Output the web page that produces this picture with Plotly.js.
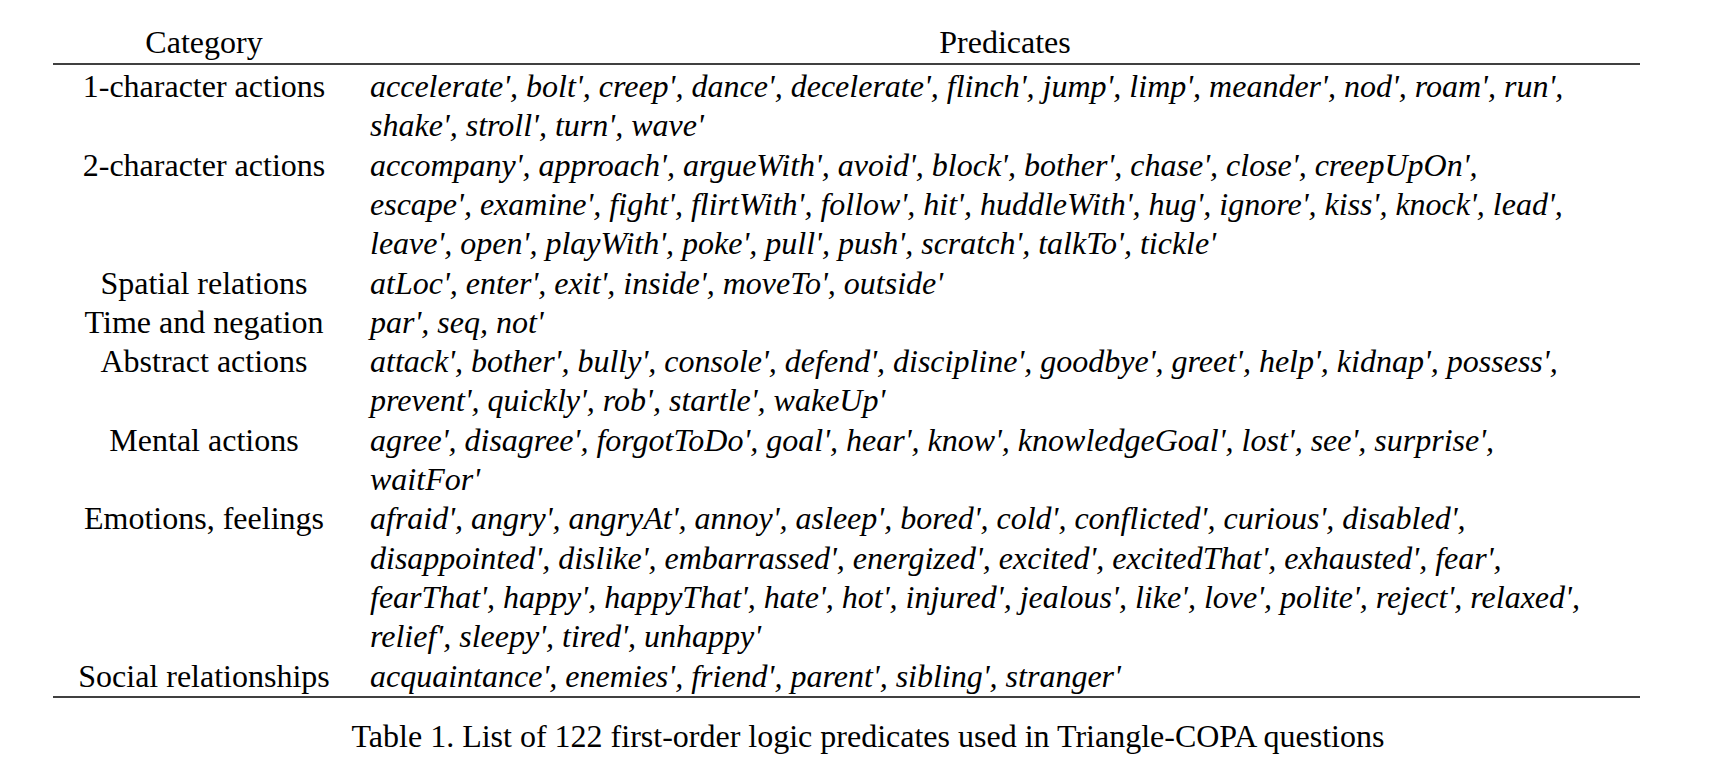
<!DOCTYPE html>
<html>
<head>
<meta charset="utf-8">
<script src="https://cdn.plot.ly/plotly-3.0.1.min.js"></script>
<style>html,body{margin:0;padding:0;background:#fff}</style>
</head>
<body>
<div id="chart" style="width:1722px;height:772px"></div>
<script>
const headers = ['Category', 'Predicates'];
const categories = ['1-character actions', '2-character actions', 'Spatial relations', 'Time and negation',
  'Abstract actions', 'Mental actions', 'Emotions, feelings', 'Social relationships'];
// wrapped text lines of each category's predicates, as printed
const predicateLines = [
  ["accelerate', bolt', creep', dance', decelerate', flinch', jump', limp', meander', nod', roam', run',",
   "shake', stroll', turn', wave'"],
  ["accompany', approach', argueWith', avoid', block', bother', chase', close', creepUpOn',",
   "escape', examine', fight', flirtWith', follow', hit', huddleWith', hug', ignore', kiss', knock', lead',",
   "leave', open', playWith', poke', pull', push', scratch', talkTo', tickle'"],
  ["atLoc', enter', exit', inside', moveTo', outside'"],
  ["par', seq, not'"],
  ["attack', bother', bully', console', defend', discipline', goodbye', greet', help', kidnap', possess',",
   "prevent', quickly', rob', startle', wakeUp'"],
  ["agree', disagree', forgotToDo', goal', hear', know', knowledgeGoal', lost', see', surprise',",
   "waitFor'"],
  ["afraid', angry', angryAt', annoy', asleep', bored', cold', conflicted', curious', disabled',",
   "disappointed', dislike', embarrassed', energized', excited', excitedThat', exhausted', fear',",
   "fearThat', happy', happyThat', hate', hot', injured', jealous', like', love', polite', reject', relaxed',",
   "relief', sleepy', tired', unhappy'"],
  ["acquaintance', enemies', friend', parent', sibling', stranger'"]
];
const caption = 'Table 1. List of 122 first-order logic predicates used in Triangle-COPA questions';

const font = 'Liberation Serif';
const size = 32;
const lineH = 39.3, firstY = 89;

const catX = [], catY = [], predX = [], predY = [], predT = [];
let line = 0;
categories.forEach((c, i) => {
  catX.push(204); catY.push(firstY + line * lineH);
  predicateLines[i].forEach(t => {
    predX.push(370); predY.push(firstY + line * lineH); predT.push(t);
    line++;
  });
});

const traces = [
  {type: 'scatter', mode: 'text', x: [204, 1005], y: [45, 45], text: headers,
   textposition: 'middle center', textfont: {family: font, size: size, color: '#000'}, hoverinfo: 'skip'},
  {type: 'scatter', mode: 'text', x: catX, y: catY, text: categories,
   textposition: 'middle center', textfont: {family: font, size: size, color: '#000'}, hoverinfo: 'skip'},
  {type: 'scatter', mode: 'text', x: predX, y: predY, text: predT,
   textposition: 'middle right', textfont: {family: font, size: size, color: '#000', style: 'italic'}, hoverinfo: 'skip'},
  {type: 'scatter', mode: 'text', x: [868], y: [739], text: [caption],
   textposition: 'middle center', textfont: {family: font, size: size, color: '#000'}, hoverinfo: 'skip'}
];

const rule = (y, w) => ({type: 'line', xref: 'x', yref: 'y', x0: 53, x1: 1640, y0: y, y1: y, line: {color: '#000', width: w}});

const layout = {
  width: 1722, height: 772,
  margin: {l: 0, r: 0, t: 0, b: 0},
  paper_bgcolor: '#fff', plot_bgcolor: '#fff',
  showlegend: false,
  xaxis: {range: [0, 1722], visible: false, fixedrange: true},
  yaxis: {range: [772, 0], visible: false, fixedrange: true},
  shapes: [rule(64, 1.5), rule(697, 1.5)]
};

Plotly.newPlot('chart', traces, layout, {staticPlot: true});
</script>
</body>
</html>
